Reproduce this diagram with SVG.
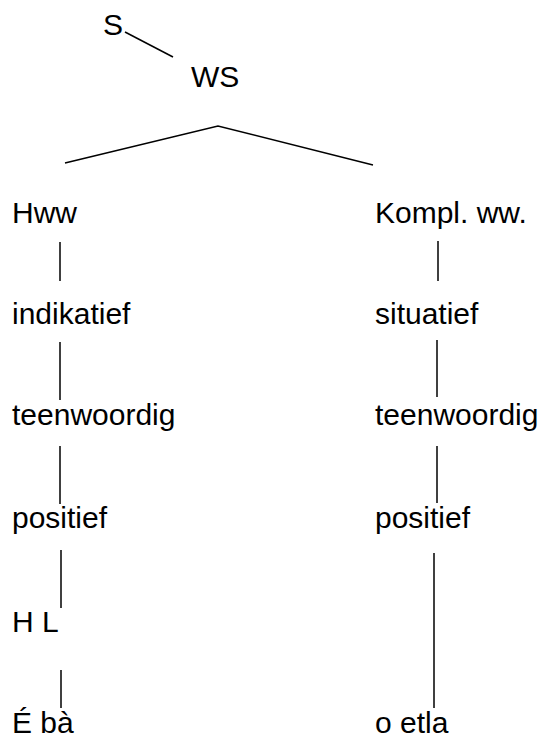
<svg xmlns="http://www.w3.org/2000/svg" width="544" height="737" viewBox="0 0 544 737">
  <style>
    .lbl { font-family: "Liberation Sans", Arial, sans-serif; font-size: 30px; fill: #000; }
    .edge { stroke: #000; stroke-width: 1.5; fill: none; }
  </style>
  <rect width="544" height="737" fill="#fff"/>

  <!-- connectors -->
  <g id="connectors" class="edge">
    <line x1="125" y1="32" x2="173" y2="57"/>
    <polyline points="65,163 218,126 373,165"/>
    <!-- left column -->
    <line x1="60" y1="242" x2="60" y2="281"/>
    <line x1="60" y1="342" x2="60" y2="400"/>
    <line x1="60" y1="446" x2="60" y2="504"/>
    <line x1="61" y1="550" x2="61" y2="608"/>
    <line x1="61" y1="670" x2="61" y2="708"/>
    <!-- right column -->
    <line x1="438" y1="241" x2="438" y2="281"/>
    <line x1="437" y1="340" x2="437" y2="397"/>
    <line x1="437" y1="446" x2="437" y2="503"/>
    <line x1="434" y1="553" x2="434" y2="708"/>
  </g>

  <!-- top -->
  <g id="n-s"><text class="lbl" x="103" y="35">S</text></g>
  <g id="n-ws"><text class="lbl" x="191" y="87">WS</text></g>

  <!-- left branch -->
  <g id="n-hww"><text class="lbl" x="12" y="223">Hww</text></g>
  <g id="n-indikatief"><text class="lbl" x="12" y="324">indikatief</text></g>
  <g id="n-teenwoordig-l"><text class="lbl" x="12" y="425">teenwoordig</text></g>
  <g id="n-positief-l"><text class="lbl" x="12" y="528">positief</text></g>
  <g id="n-hl"><text class="lbl" x="12" y="632">H L</text></g>
  <g id="n-eba"><text class="lbl" x="12" y="733">É bà</text></g>

  <!-- right branch -->
  <g id="n-kompl"><text class="lbl" x="375" y="223">Kompl. ww.</text></g>
  <g id="n-situatief"><text class="lbl" x="375" y="324">situatief</text></g>
  <g id="n-teenwoordig-r"><text class="lbl" x="375" y="425">teenwoordig</text></g>
  <g id="n-positief-r"><text class="lbl" x="375" y="528">positief</text></g>
  <g id="n-oetla"><text class="lbl" x="375" y="733">o etla</text></g>
</svg>
